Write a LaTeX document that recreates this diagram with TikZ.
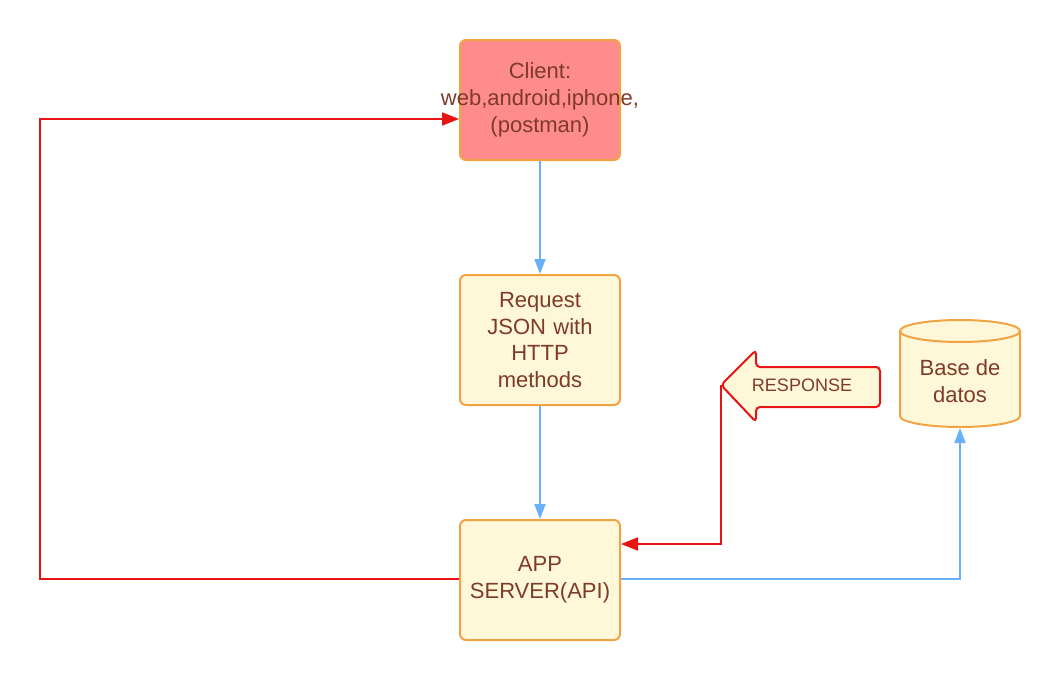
\documentclass[tikz,border=0pt]{standalone}
\usepackage{fontspec}
\setmainfont{Liberation Sans}
\usetikzlibrary{arrows.meta}
\definecolor{boxfill}{HTML}{FFF8D8}
\definecolor{boxline}{HTML}{F2A444}
\definecolor{pinkfill}{HTML}{FF8C8C}
\definecolor{txt}{HTML}{7E3B27}
\definecolor{redline}{HTML}{E81414}
\definecolor{blueline}{HTML}{6AB0F8}
\tikzset{
  box/.style={draw=boxline, line width=2pt, fill=boxfill, rounded corners=6pt,
    minimum width=160pt, text width=150pt, align=center, inner sep=0pt,
    text=txt, font=\fontsize{22}{26.8}\selectfont},
  redarrow/.style={draw=redline, line width=2pt, -{Triangle[length=17pt,width=13pt]}},
  bluearrow/.style={draw=blueline, line width=2pt, -{Triangle[length=15pt,width=11pt]}},
  label/.style={text=txt, align=center, inner sep=0pt}
}
\begin{document}
\begin{tikzpicture}[x=1pt,y=-1pt]
\useasboundingbox (0,0) rectangle (1060,680);
% boxes
\node[box, fill=pinkfill, minimum height=120pt] (client) at (540,100) {Client:\\\makebox[0pt]{web,android,iphone,}\\(postman)};
\node[box, minimum height=130pt] (req) at (540,340) {Request\\JSON with\\HTTP\\methods};
\node[box, minimum height=120pt] (app) at (540,580) {APP\\SERVER(API)};
% database cylinder
\draw[draw=boxline, line width=2pt, fill=boxfill]
  (900,331) -- (900,416) arc[start angle=180, end angle=0, x radius=60, y radius=11]
  -- (1020,331) arc[start angle=0, end angle=-180, x radius=60, y radius=11] -- cycle;
\draw[draw=boxline, line width=2pt]
  (900,331) arc[start angle=180, end angle=0, x radius=60, y radius=11];
\node[label, font=\fontsize{22}{26.8}\selectfont] (dbtext) at (960,381) {Base de\\datos};
\coordinate (dbbottom) at (960,428);
% response arrow shape
\draw[draw=redline, line width=2pt, fill=boxfill, rounded corners=4pt]
  (721,385) -- (756,350) -- (756,367) -- (880,367) -- (880,407) -- (756,407) -- (756,422) -- cycle;
\node[label, font=\fontsize{18}{20}\selectfont] (resp) at (802,385) {RESPONSE};
\coordinate (tip) at (721,385);
% connectors
\draw[bluearrow] (client.south) -- (req.north);
\draw[bluearrow] (req.south) -- (app.north);
\draw[redarrow] (app.west |- 0,579) -- (40,579) -- (40,119) -- (client.west |- 0,119);
\draw[redarrow] (tip) -- (721,544) -- (app.east |- 0,544);
\draw[bluearrow] (app.east |- 0,579) -- (960,579) -- (dbbottom);
\end{tikzpicture}
\end{document}
